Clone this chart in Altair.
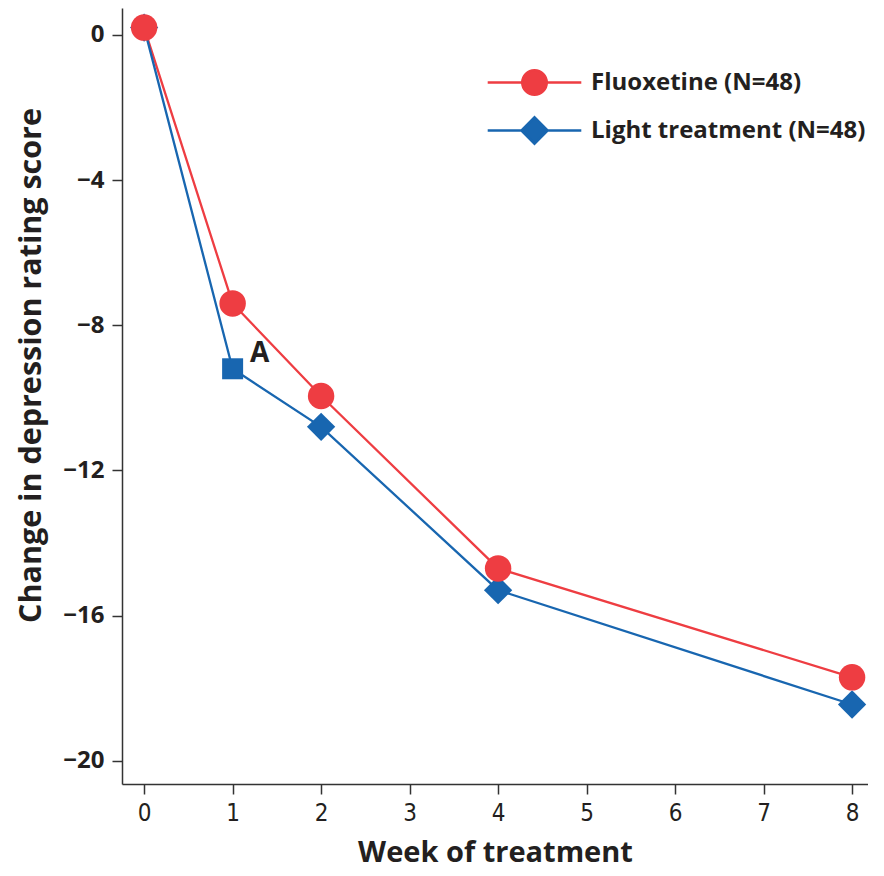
import altair as alt
import pandas as pd

# ---- data ----
weeks = [0, 1, 2, 4, 8]
fluoxetine = [0.2, -7.4, -9.95, -14.7, -17.7]
light = [0.2, -9.2, -10.8, -15.3, -18.45]
fluoxetine_markers = ["circle", "circle", "circle", "circle", "circle"]
light_markers = ["diamond", "square", "diamond", "diamond", "diamond"]
series_names = ["Fluoxetine (N=48)", "Light treatment (N=48)"]
series_colors = ["#EE3D42", "#1866B0"]
x_ticks = [0, 1, 2, 3, 4, 5, 6, 7, 8]
y_ticks = [0, -4, -8, -12, -16, -20]
annot_week = [1]
annot_value = [-9.2]
annot_text = ["A"]

rows = []
for name, vals, marks in zip(series_names, [fluoxetine, light], [fluoxetine_markers, light_markers]):
    for w, v, m in zip(weeks, vals, marks):
        rows.append({"week": w, "value": v, "series": name, "marker": m})
df = pd.DataFrame(rows)
annot = pd.DataFrame({"week": annot_week, "value": annot_value, "text": annot_text})

TEXT = "#231f20"
AX = "#333333"

xscale = alt.Scale(domain=[-0.25, 8.18], nice=False, zero=False)
yscale = alt.Scale(domain=[-20.64, 0.74], nice=False, zero=False)
cscale = alt.Scale(domain=series_names, range=series_colors)

circle_path = "M-3.6,0L-1,0M1,0L3.6,0M-0.95,0A0.95,0.95,0,1,1,0.95,0A0.95,0.95,0,1,1,-0.95,0Z"
diamond_path = "M-3.6,0L-1.05,0M1.05,0L3.6,0M-1.02,0L0,-1.02L1.02,0L0,1.02Z"
shape_scale = alt.Scale(domain=series_names, range=[circle_path, diamond_path])

xaxis = alt.Axis(
    values=x_ticks, format="d", title="Week of treatment", grid=False,
    labelFont="DejaVu Sans Condensed, Roboto, sans-serif", labelFontSize=24, labelColor=TEXT,
    labelPadding=7, labelFlush=False, labelOverlap=False,
    tickSize=10, tickColor=AX, tickWidth=1.5, domainColor=AX, domainWidth=1.5,
    titleFont="Open Sans", titleFontSize=29, titleFontWeight="bold",
    titleColor=TEXT, titlePadding=13,
)
yaxis = alt.Axis(
    values=y_ticks, format="d", title="Change in depression rating score", grid=False,
    labelFont="Open Sans", labelFontSize=24, labelFontWeight="bold", labelColor=TEXT,
    labelPadding=8, labelFlush=False, labelOverlap=False,
    tickSize=10, tickColor=AX, tickWidth=1.5, domainColor=AX, domainWidth=1.5,
    titleFont="Open Sans", titleFontSize=30.5, titleFontWeight="bold",
    titleColor=TEXT, titlePadding=16, titleY=357,
)

x = alt.X("week:Q", scale=xscale, axis=xaxis)
y = alt.Y("value:Q", scale=yscale, axis=yaxis)


def leg():
    return alt.Legend(
        title=None, orient="none", legendX=398, legendY=60,
        labelFont="Open Sans", labelFontSize=24, labelFontWeight="bold", labelColor=TEXT,
        labelOffset=42, rowPadding=12, symbolSize=676, symbolStrokeWidth=2.3,
        labelLimit=400,
    )


def fill_enc():
    return alt.Fill("series:N", scale=cscale, legend=leg())


base = alt.Chart(df)

lines = base.mark_line(strokeWidth=2.3).encode(
    x=x, y=y,
    stroke=alt.Stroke("series:N", scale=cscale, legend=leg()),
)

diamonds = base.mark_point(filled=True, opacity=1, shape="diamond", size=800).encode(
    x=x, y=y, fill=fill_enc(),
).transform_filter("datum.marker == 'diamond'")

squares = base.mark_point(filled=True, opacity=1, shape="square", size=441).encode(
    x=x, y=y, fill=fill_enc(),
).transform_filter("datum.marker == 'square'")

circles = base.mark_point(filled=True, opacity=1, shape="circle", size=700).encode(
    x=x, y=y, fill=fill_enc(),
).transform_filter("datum.marker == 'circle'")

legend_layer = base.mark_point(filled=True, opacity=1, size=676, strokeWidth=2.3).encode(
    x=x, y=y,
    fill=fill_enc(),
    stroke=alt.Stroke("series:N", scale=cscale, legend=leg()),
    shape=alt.Shape("series:N", scale=shape_scale, legend=leg()),
).transform_filter("false")

label = alt.Chart(annot).mark_text(
    font="Open Sans", fontSize=28, fontWeight="bold", color=TEXT,
    align="center", baseline="alphabetic", dx=27, dy=-7,
).encode(
    x=alt.X("week:Q", scale=xscale),
    y=alt.Y("value:Q", scale=yscale),
    text="text:N",
)

chart = alt.layer(lines, diamonds, squares, circles, legend_layer, label).properties(
    width=746, height=776,
    autosize=alt.AutoSizeParams(type="none"),
    padding={"left": 114, "top": 0, "right": 0, "bottom": 86},
).configure(background="white").configure_view(stroke=None)

chart.save("out.html", embed_options={"renderer": "svg", "actions": False})
